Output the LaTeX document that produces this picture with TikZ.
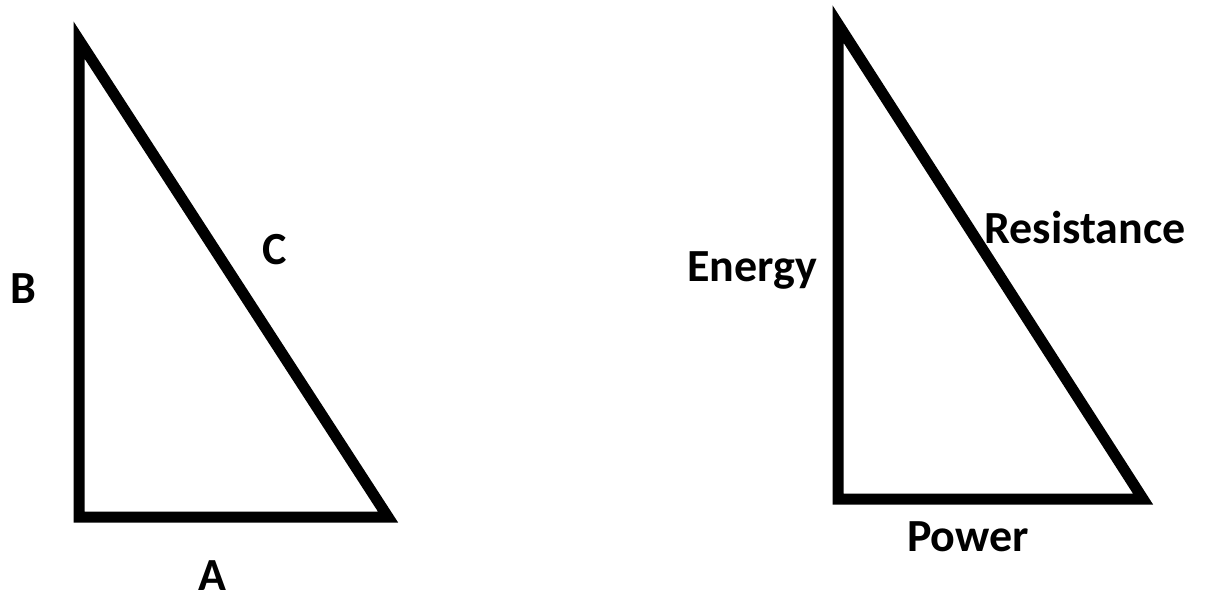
\documentclass[tikz,border=0pt]{standalone}
\usepackage{fontspec}
\setmainfont{Carlito}
\begin{document}
\begin{tikzpicture}[x=1pt,y=-1pt,
  tri/.style={line width=11pt, line join=miter, miter limit=10, draw=black},
  lbl/.style={anchor=base, inner sep=0pt, font=\fontsize{46}{54}\selectfont\bfseries}]
\useasboundingbox (0,0) rectangle (1221,597);
% left triangle
\coordinate (lt) at (79,40);
\coordinate (lb) at (79,517);
\coordinate (lr) at (388,517);
\draw[tri] (lt) -- (lb) -- (lr) -- cycle;
% right triangle
\coordinate (rt) at (838,24);
\coordinate (rb) at (838,499);
\coordinate (rr) at (1143,499);
\draw[tri] (rt) -- (rb) -- (rr) -- cycle;
% labels
\node[lbl] (B) at (23,303) {B};
\node[lbl] (C) at (275,264) {C};
\node[lbl] (A) at (212,590) {A};
\node[lbl] (E) at (752,281) {Energy};
\node[lbl] (R) at (1085,243) {Resistance};
\node[lbl] (P) at (968,551) {Power};
\end{tikzpicture}
\end{document}
